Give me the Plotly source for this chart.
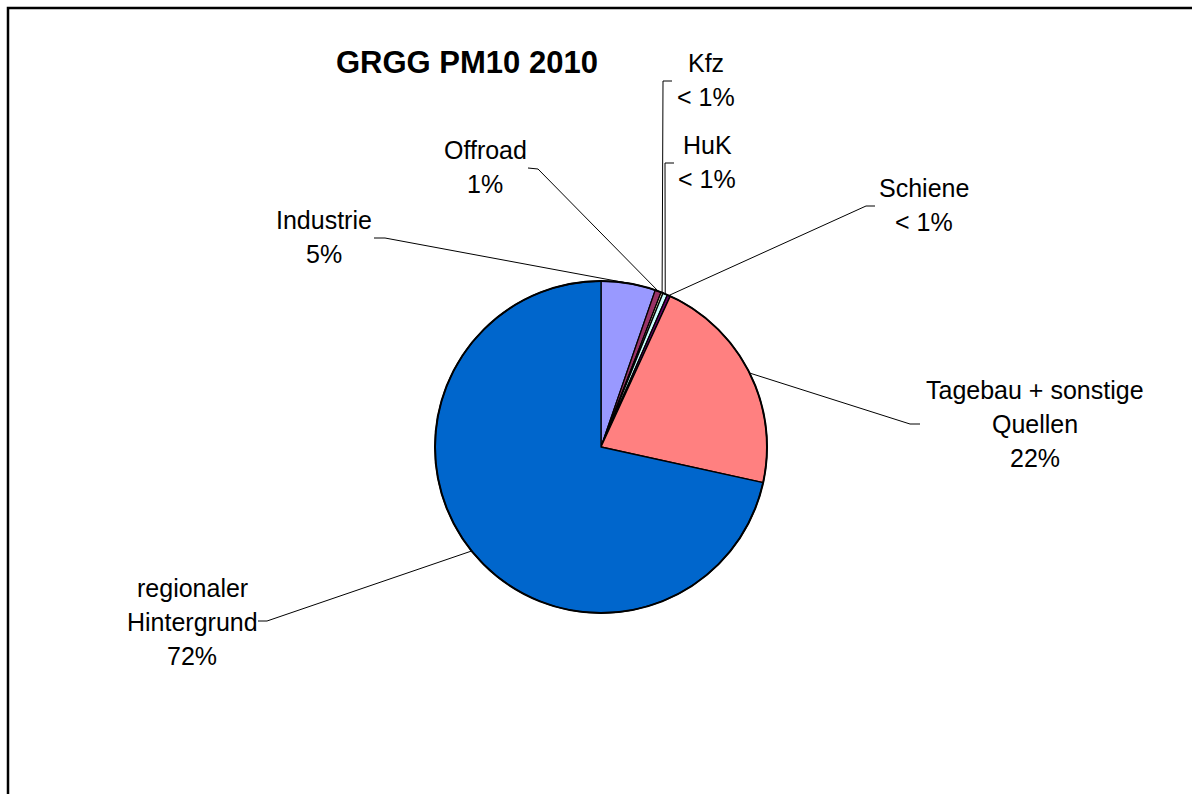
import math
import plotly.graph_objects as go

# Source shares of PM10 (%), clockwise from 12 o'clock
sources = ["Industrie", "Offroad", "Kfz", "HuK", "Schiene",
           "Tagebau + sonstige Quellen", "regionaler Hintergrund"]
shares = [5.3, 0.6, 0.2, 0.45, 0.3, 21.6, 71.55]
slice_colors = ["#9999FF", "#993366", "#FFFFCC", "#CCFFFF", "#660066",
                "#FF8080", "#0066CC"]
# label text lines (name part) for each source
name_lines = [["Industrie"], ["Offroad"], ["Kfz"], ["HuK"], ["Schiene"],
              ["Tagebau + sonstige", "Quellen"], ["regionaler", "Hintergrund"]]

W, H = 1192, 794
CX, CY, R = 601, 447, 166          # pie centre / radius in pixels

# label block centre (x, y of first line) and line pitch
label_pos = [(324, 220), (485, 150), (706, 63), (707, 145), (924, 188),
             (1035, 390), (192, 588)]
line_pitch = 34
# leader line: label-side end and knee point
leader = [((374, 238), (385, 238)),
          ((528, 168), (538, 169)),
          ((672, 81), (663, 81)),
          ((674, 163), (665, 163)),
          ((875, 206), (866, 206)),
          ((920, 424), (910, 424)),
          ((258, 621), (267, 621))]

FONT = "Liberation Sans, Arial, sans-serif"


def px(x):
    return x / W


def py(y):
    return 1 - y / H


def pct_text(v, total):
    p = v / total * 100
    return "< 1%" if round(p) == 0 else f"{round(p)}%"


total = sum(shares)

fig = go.Figure()
fig.add_trace(go.Pie(
    labels=sources,
    values=shares,
    sort=False,
    direction="clockwise",
    rotation=0,
    textinfo="none",
    hoverinfo="label+percent",
    marker=dict(colors=slice_colors, line=dict(color="black", width=1.3)),
    domain=dict(x=[px(CX - R), px(CX + R)], y=[py(CY + R), py(CY - R)]),
    showlegend=False,
))

shapes = []
annotations = []

# outer chart frame
shapes.append(dict(type="rect", xref="paper", yref="paper",
                   x0=px(8), y0=py(8), x1=px(W + 20), y1=py(H + 20),
                   line=dict(color="black", width=2.5), fillcolor="rgba(0,0,0,0)"))
# heavier outline round the pie
shapes.append(dict(type="circle", xref="paper", yref="paper",
                   x0=px(CX - R), y0=py(CY + R), x1=px(CX + R), y1=py(CY - R),
                   line=dict(color="black", width=2), fillcolor="rgba(0,0,0,0)"))

cum = 0.0
for i, v in enumerate(shares):
    mid = (cum + v / 2) / total * 2 * math.pi
    cum += v
    ex = CX + R * math.sin(mid)
    ey = CY - R * math.cos(mid)
    (ax, ay), (kx, ky) = leader[i]
    for (x0, y0, x1, y1) in [(ax, ay, kx, ky), (kx, ky, ex, ey)]:
        shapes.append(dict(type="line", xref="paper", yref="paper",
                           x0=px(x0), y0=py(y0), x1=px(x1), y1=py(y1),
                           line=dict(color="black", width=1)))
    lines = name_lines[i] + [pct_text(v, total)]
    lx, ly = label_pos[i]
    for j, t in enumerate(lines):
        annotations.append(dict(
            x=px(lx), y=py(ly + j * line_pitch), xref="paper", yref="paper",
            text=t, showarrow=False, xanchor="center", yanchor="middle",
            font=dict(family=FONT, size=25, color="black")))

annotations.append(dict(
    x=px(467), y=py(62), xref="paper", yref="paper",
    text="<b>GRGG PM10 2010</b>", showarrow=False,
    xanchor="center", yanchor="middle",
    font=dict(family=FONT, size=31, color="black")))

fig.update_layout(
    width=W, height=H,
    margin=dict(l=0, r=0, t=0, b=0),
    paper_bgcolor="white",
    plot_bgcolor="white",
    shapes=shapes,
    annotations=annotations,
)

fig.write_html("out.html")
